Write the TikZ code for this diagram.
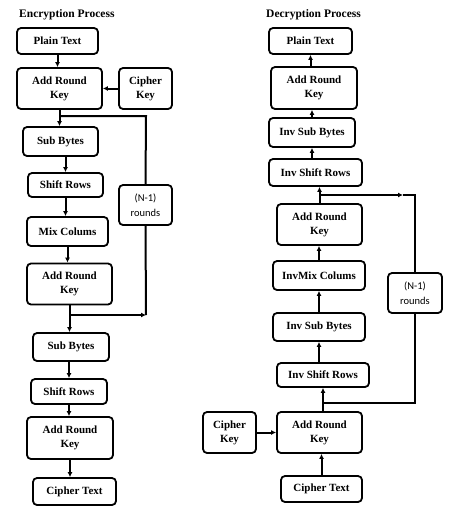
\documentclass[tikz,border=0pt]{standalone}
\usepackage{fontspec}
\setmainfont{Liberation Serif}
\newfontfamily\roundsfont{Carlito}
\usepackage{tikz}
\usetikzlibrary{positioning,calc,arrows.meta}

\tikzset{
  stage/.style={draw, line width=1.8pt, rounded corners=4pt, align=center, inner sep=0pt,
    font=\fontsize{11}{14}\selectfont\bfseries},
  loopbox/.style={stage, font=\fontsize{10.5}{15}\selectfont\roundsfont},
  flow/.style={line width=2pt},
  title/.style={anchor=west, inner sep=0pt, font=\fontsize{11.5}{13}\selectfont\bfseries}
}

\begin{document}
\begin{tikzpicture}[x=1pt, y=-1pt, >={Latex[length=5pt,width=5pt]}]
        \useasboundingbox (0,0) rectangle (455,511);

        % Encryption
        \node[title] (enctitle) at (19,15) {Encryption Process};
        \node[stage, minimum width=81, minimum height=26] (pt1) at (57.5,41) {Plain Text};
        \node[stage, minimum width=85, minimum height=41] (ark1) at (59.5,88.5) {Add Round\\Key};
        \node[stage, minimum width=53, minimum height=41] (ck1) at (145.5,88.5) {Cipher\\Key};
        \node[stage, minimum width=75, minimum height=29] (sb1) at (60.5,141.5) {Sub Bytes};
        \node[stage, minimum width=75, minimum height=24] (sr1) at (65.5,185) {Shift Rows};
        \node[loopbox, minimum width=53, minimum height=40] (rnd1) at (145.5,205) {(N-1)\\rounds};
        \node[stage, minimum width=81, minimum height=29] (mc1) at (67.5,231.5) {Mix Colums};
        \node[stage, minimum width=85, minimum height=41] (ark2) at (69.5,284) {Add Round\\Key};
        \node[stage, minimum width=76, minimum height=28] (sb2) at (71,347) {Sub Bytes};
        \node[stage, minimum width=76, minimum height=25] (sr2) at (69,391.5) {Shift Rows};
        \node[stage, minimum width=86, minimum height=42] (ark3) at (70,438) {Add Round\\Key};
        \node[stage, minimum width=83, minimum height=27] (ct1) at (74.5,491.5) {Cipher Text};

        \draw[flow,->] (pt1.south) -- (pt1.south |- ark1.north);
        \draw[flow,->] (ck1.west) -- (ark1.east);
        \draw[flow,->] (ark1.south) -- (ark1.south |- sb1.north);
        \draw[flow,->] (sb1.south -| sr1.north) -- (sr1.north);
        \draw[flow,->] (sr1.south) -- (sr1.south |- mc1.north);
        \draw[flow,->] (mc1.south) -- (mc1.south |- ark2.north);
        \draw[flow,->] (ark2.south) -- (ark2.south |- sb2.north);
        \draw[flow,->] (sb2.south -| sr2.north) -- (sr2.north);
        \draw[flow,->] (sr2.south) -- (sr2.south |- ark3.north);
        \draw[flow,->] (ark3.south) -- (ark3.south |- ct1.north);

        % round loop
        \coordinate (etop) at (146,116);
        \coordinate (ebot) at (146,315);
        \draw[flow] (ark1.south |- etop) -- (etop) -- (rnd1.north);
        \draw[flow] (rnd1.south) -- (ebot);
        \draw[flow,->] (ark2.south |- ebot) -- (ebot);

        % Decryption
        \node[title] (dectitle) at (266,15) {Decryption Process};
        \node[stage, minimum width=83, minimum height=26] (pt2) at (310.5,41) {Plain Text};
        \node[stage, minimum width=86, minimum height=42] (ark4) at (314,88) {Add Round\\Key};
        \node[stage, minimum width=86, minimum height=29] (isb1) at (312,132.5) {Inv Sub Bytes};
        \node[stage, minimum width=93, minimum height=27] (isr1) at (315.5,172.5) {Inv Shift Rows};
        \node[stage, minimum width=85, minimum height=41] (ark5) at (319.5,224.5) {Add Round\\Key};
        \node[stage, minimum width=92, minimum height=29] (imc) at (319,275.5) {InvMix Colums};
        \node[stage, minimum width=92, minimum height=28] (isb2) at (319,327) {Inv Sub Bytes};
        \node[loopbox, minimum width=54, minimum height=40] (rnd2) at (415,293) {(N-1)\\rounds};
        \node[stage, minimum width=92, minimum height=24] (isr2) at (323,375) {Inv Shift Rows};
        \node[stage, minimum width=53, minimum height=41] (ck2) at (229.5,432.5) {Cipher\\Key};
        \node[stage, minimum width=85, minimum height=41] (ark6) at (319.5,432.5) {Add Round\\Key};
        \node[stage, minimum width=81, minimum height=26] (ct2) at (321.5,489) {Cipher Text};

        \draw[flow,->] (ark4.north -| pt2.south) -- (pt2.south);
        \draw[flow,->] (isb1.north) -- (isb1.north |- ark4.south);
        \draw[flow,->] (isr1.north -| isb1.south) -- (isb1.south);
        \draw[flow,->] (ark5.north) -- (ark5.north |- isr1.south);
        \draw[flow,->] (imc.north) -- (imc.north |- ark5.south);
        \draw[flow,->] (isb2.north) -- (isb2.north |- imc.south);
        \draw[flow,->] (isr2.north -| isb2.south) -- (isb2.south);
        \draw[flow,->] (ark6.north -| isr2.south) -- (isr2.south);
        \draw[flow,->] (ck2.east) -- (ark6.west);
        \draw[flow,->] (ct2.north) -- (ct2.north |- ark6.south);

        % round loop
        \coordinate (dtop) at (415,195);
        \coordinate (dmid) at (403,195);
        \coordinate (dbot) at (415,403);
        \draw[flow,->] (ark5.north |- dtop) -- (dmid);
        \draw[flow] (dmid) -- (dtop) -- (rnd2.north);
        \draw[flow] (ark6.north -| isr2.south) |- (dbot) -- (rnd2.south);
\end{tikzpicture}
\end{document}
